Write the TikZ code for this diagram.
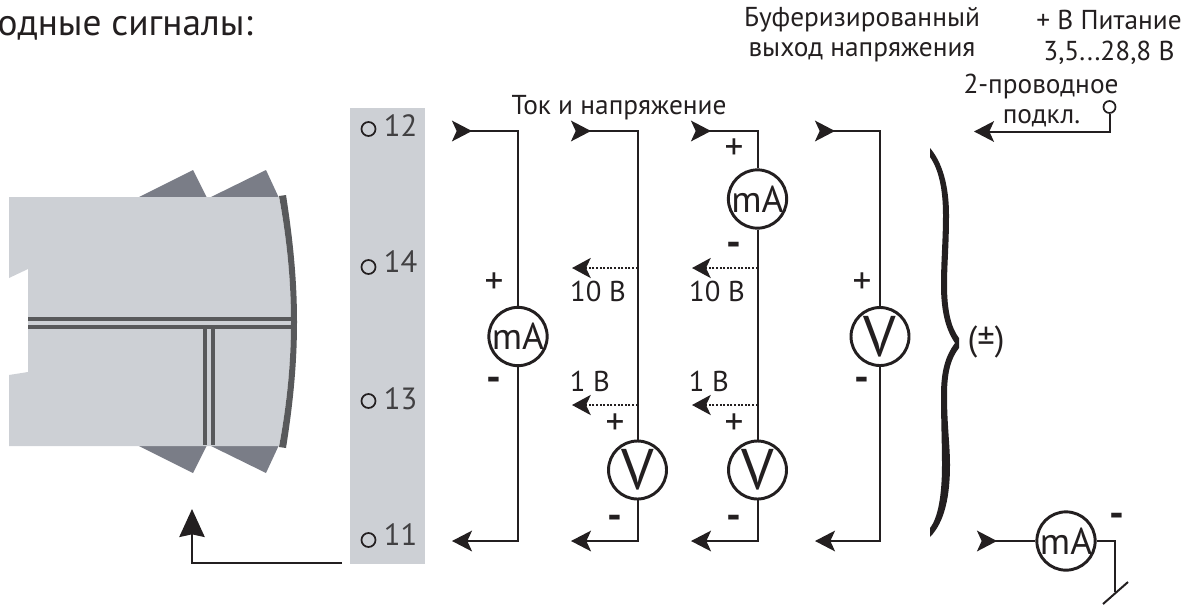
\documentclass[tikz,border=0pt]{standalone}
\usepackage{fontspec}
\setmainfont{PT Sans}
\usetikzlibrary{arrows.meta}
\definecolor{ink}{HTML}{231F20}
\definecolor{panel}{HTML}{CDD0D5}
\definecolor{band}{HTML}{58595B}
\definecolor{fin}{HTML}{7A7D87}
\definecolor{numc}{HTML}{414042}
\tikzset{
  x=0.75pt,y=-0.75pt,
  wire/.style={draw=ink,line width=1.5pt,line join=miter},
  inhead/.style={{Stealth[reversed,length=15pt,width=15.5pt,inset=3.5pt]}-},
  outhead/.style={-{Stealth[length=15pt,width=15.5pt,inset=3.5pt]}},
  tap/.style={draw=ink,line width=2pt,dash pattern=on 1.5pt off 1.2pt,-{Stealth[length=14pt,width=15pt,inset=3.5pt]}},
  meter/.style={circle,draw=ink,line width=2.2pt,fill=white,inner sep=0pt,minimum size=43.5pt,text=ink},
  mafont/.style={font=\fontsize{28}{28}\selectfont},
  vfont/.style={font=\fontsize{43}{43}\selectfont},
  label/.style={inner sep=0pt,text=ink,font=\fontsize{20.5}{22}\selectfont},
  vlabel/.style={inner sep=0pt,text=ink,font=\fontsize{21.5}{22}\selectfont},
  sign/.style={inner sep=0pt,text=ink,font=\fontsize{28}{28}\selectfont},
  minus/.style={inner sep=0pt,text=ink,font=\bfseries\fontsize{31}{31}\selectfont},
  term/.style={circle,draw=ink,line width=1.3pt,inner sep=0pt,minimum size=10.5pt},
  termnum/.style={inner sep=0pt,text=numc,font=\fontsize{23}{23}\selectfont},
}
\begin{document}
\begin{tikzpicture}
\useasboundingbox (0,0) rectangle (1192,604);
% housing
\fill[fin] (137,198)--(193,170)--(207,198)--cycle;
\fill[fin] (209,198)--(266,170)--(279,198)--cycle;
\fill[fin] (137,445)--(193,473)--(207,445)--cycle;
\fill[fin] (209,445)--(266,473)--(279,445)--cycle;
\fill[panel] (9,197)--(279,197) .. controls (287,240) and (291,280) .. (291,322)
  .. controls (291,364) and (287,404) .. (279,446) -- (9,446)--(9,375)--(28,372)--(28,269)--(9,278)--cycle;
\fill[band] (279,196)--(286,195) .. controls (293,240) and (297,280) .. (297,322)
  .. controls (297,364) and (293,404) .. (286,448) -- (279,447)
  .. controls (287,404) and (291,364) .. (291,322) .. controls (291,280) and (287,240) .. (279,196)--cycle;
\fill[band] (28,317) rectangle (291,321);
\fill[band] (28,325) rectangle (291,329);
\fill[band] (203,329) rectangle (207,445);
\fill[band] (211,329) rectangle (215,445);
% terminal strip
\fill[panel] (350,108) rectangle (425,564);
\node[term] (t12) at (368.5,129) {};
\node[term] (t14) at (368.5,267) {};
\node[term] (t13) at (368.5,401) {};
\node[term] (t11) at (368.5,540) {};
\node[termnum] (n12) at (400.5,126) {12};
\node[termnum] (n14) at (400.5,262) {14};
\node[termnum] (n13) at (400.5,399) {13};
\node[termnum] (n11) at (400.5,535) {11};
% return arrow
\coordinate (ra) at (342,562.5);
\coordinate (rb) at (192,562.5);
\coordinate (rc) at (192,509);
\draw[wire,-{Stealth[length=21pt,width=19pt,inset=2pt]}] (ra)--(rb)--(rc);
% title
\node[inner sep=0pt,anchor=east,text=ink,font=\fontsize{28}{28}\selectfont] (title) at (253,28) {одные сигналы:};
% meters
\node[meter,mafont] (m1) at (518,336.5) {mA};
\node[meter,vfont] (v2) at (637.5,470) {V};
\node[meter,mafont] (m3) at (757.5,199) {mA};
\node[meter,vfont] (v3) at (757.5,470) {V};
\node[meter,vfont] (v4) at (880,336.5) {V};
\node[meter,mafont] (m5) at (1066,541) {mA};
% column 1
\coordinate (a1) at (452,131);\coordinate (b1) at (518,131);
\coordinate (c1) at (518,541);\coordinate (d1) at (452,541);
\draw[wire,inhead] (a1)--(b1)--(m1.north);
\draw[wire,outhead] (m1.south)--(c1)--(d1);
% column 2
\coordinate (a2) at (571,131);\coordinate (b2) at (637.5,131);
\coordinate (c2) at (637.5,541);\coordinate (d2) at (571,541);
\draw[wire,inhead] (a2)--(b2)--(v2.north);
\draw[wire,outhead] (v2.south)--(c2)--(d2);
\coordinate (e2) at (637.5,268);\coordinate (f2) at (572,268);
\coordinate (g2) at (637.5,405);\coordinate (h2) at (572,405);
\draw[tap] (e2)--(f2);
\draw[tap] (g2)--(h2);
% column 3
\coordinate (a3) at (691,131);\coordinate (b3) at (757.5,131);
\coordinate (c3) at (757.5,541);\coordinate (d3) at (691,541);
\draw[wire,inhead] (a3)--(b3)--(m3.north);
\draw[wire] (m3.south)--(v3.north);
\draw[wire,outhead] (v3.south)--(c3)--(d3);
\coordinate (e3) at (757.5,268);\coordinate (f3) at (692,268);
\coordinate (g3) at (757.5,405);\coordinate (h3) at (692,405);
\draw[tap] (e3)--(f3);
\draw[tap] (g3)--(h3);
% column 4
\coordinate (a4) at (815,131);\coordinate (b4) at (880,131);
\coordinate (c4) at (880,541);\coordinate (d4) at (815,541);
\draw[wire,inhead] (a4)--(b4)--(v4.north);
\draw[wire,outhead] (v4.south)--(c4)--(d4);
% two-wire
\node[circle,draw=ink,line width=1.3pt,inner sep=0pt,minimum size=9pt] (ring) at (1109.5,107) {};
\coordinate (w1) at (1109.5,131.5);\coordinate (w2) at (974,131.5);
\draw[wire,outhead] (ring.south)--(w1)--(w2);
% bottom right
\coordinate (x1) at (977,541);
\coordinate (x2) at (1115,541);\coordinate (x3) at (1115,592);
\coordinate (s1) at (1103,604);\coordinate (s2) at (1128,582);
\draw[wire,inhead] (x1)--(m5.west);
\draw[wire] (m5.east)--(x2)--(x3);
\draw[wire] (s1)--(s2);
% brace
\fill[ink] (930,148) .. controls (942,162) and (949,185) .. (949,215)
  .. controls (949,245) and (947,265) .. (947,285)
  .. controls (947,310) and (951,328) .. (959,338) -- (959,348)
  .. controls (951,358) and (947,372) .. (947,395)
  .. controls (947,425) and (950,445) .. (950,465)
  .. controls (950,495) and (945,522) .. (930,537) -- (930,528)
  .. controls (938,518) and (942,495) .. (942,465)
  .. controls (942,445) and (941,420) .. (941,395)
  .. controls (941,370) and (946,355) .. (955,343)
  .. controls (946,330) and (941,312) .. (941,285)
  .. controls (941,260) and (943,240) .. (943,215)
  .. controls (943,190) and (939,170) .. (930,157) -- cycle;
% signs
\node[sign] (p1) at (494,283) {+};
\node[minus] (q1) at (494,384) {-};
\node[sign] (p2) at (615,424) {+};
\node[minus] (q2) at (615,522) {-};
\node[sign] (p3) at (734,149) {+};
\node[minus] (q3) at (734,249) {-};
\node[sign] (p4) at (734,424) {+};
\node[minus] (q4) at (734,522) {-};
\node[sign] (p5) at (862,283) {+};
\node[minus] (q5) at (862,384) {-};
\node[minus] (q6) at (1117,520) {-};
% labels
\node[vlabel] (l1) at (598,291) {10 В};
\node[vlabel] (l2) at (717,291) {10 В};
\node[vlabel] (l3) at (590,381) {1 В};
\node[vlabel] (l4) at (709,381) {1 В};
\node[label] (l5) at (619,108) {Ток и напряжение};
\node[label] (l6) at (862,20) {Буферизированный};
\node[label] (l7) at (862,52) {выход напряжения};
\node[label] (l8) at (1109,20) {+ В Питание};
\node[label] (l9) at (1109,53) {3,5...28,8 В};
\node[label] (l10) at (1041,86) {2-проводное};
\node[label] (l11) at (1041.5,118) {подкл.};
\node[inner sep=0pt,text=ink,font=\fontsize{26}{26}\selectfont] (l12) at (986,342) {(±)};
\end{tikzpicture}
\end{document}
